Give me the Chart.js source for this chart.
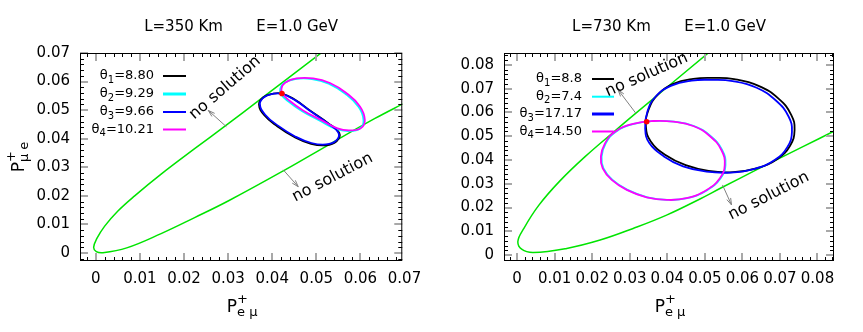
<!DOCTYPE html>
<html>
<head>
<meta charset="utf-8">
<script src="https://cdn.jsdelivr.net/npm/chart.js@4.4.1/dist/chart.umd.min.js"></script>
<style>
  body { margin: 0; background: #fff; width: 863px; height: 332px; overflow: hidden; position: relative; }
  .panel { position: absolute; top: 0; height: 332px; }
</style>
</head>
<body>
<div class="panel" style="left:0;width:430px"><canvas id="left" width="430" height="332"></canvas></div>
<div class="panel" style="left:430px;width:433px"><canvas id="right" width="433" height="332"></canvas></div>
<script>
const FONT = "'DejaVu Sans', sans-serif";

// ---------- left panel : L=350 Km ----------
const leftTitle = 'L=350 Km       E=1.0 GeV';
const leftXTicks = [0, 0.01, 0.02, 0.03, 0.04, 0.05, 0.06, 0.07];
const leftYTicks = [0, 0.01, 0.02, 0.03, 0.04, 0.05, 0.06, 0.07];
const leftThetas = ['8.80', '9.29', '9.66', '10.21'];
const leftBoundary = [[0.0515,0.0705],[0.0375,0.0540],[0.0292,0.0443],[0.0224,0.0365],[0.0148,0.0276],[0.0088,0.0200],
  [0.0050,0.0147],[0.0020,0.0094],[0.0002,0.0050],[-0.0005,0.0020],[0.0001,0.0005],[0.0016,0.0001],[0.0070,0.0018],
  [0.0148,0.0068],[0.0224,0.0124],[0.0300,0.0182],[0.0428,0.0290],[0.0526,0.0377],[0.0632,0.0470],[0.0700,0.0525]];
const leftTheta1 = [[0.0370,0.0520],[0.0380,0.0545],[0.0400,0.0557],[0.0422,0.0558],[0.0451,0.0537],[0.0488,0.0496],[0.0526,0.0455],
  [0.0552,0.0420],[0.0546,0.0391],[0.0522,0.0377],[0.0488,0.0382],[0.0451,0.0405],[0.0412,0.0443],[0.0382,0.0482]];
const leftTheta2 = [[0.0418,0.0574],[0.0426,0.0594],[0.0452,0.0609],[0.0490,0.0609],[0.0528,0.0593],[0.0565,0.0558],[0.0596,0.0511],
  [0.0607,0.0465],[0.0599,0.0436],[0.0573,0.0427],[0.0545,0.0434],[0.0507,0.0464],[0.0467,0.0497],[0.0437,0.0530],[0.0420,0.0556]];
const leftTheta3 = [[0.0372,0.0522],[0.0382,0.0546],[0.0401,0.0557],[0.0422,0.0557],[0.0451,0.0536],[0.0488,0.0495],[0.0525,0.0455],
  [0.0550,0.0421],[0.0545,0.0393],[0.0522,0.0380],[0.0489,0.0385],[0.0452,0.0408],[0.0414,0.0445],[0.0384,0.0484]];
const leftTheta4 = [[0.0421,0.0576],[0.0429,0.0596],[0.0455,0.0611],[0.0493,0.0611],[0.0531,0.0595],[0.0568,0.0560],[0.0599,0.0513],
  [0.0610,0.0467],[0.0602,0.0438],[0.0576,0.0429],[0.0548,0.0436],[0.0510,0.0466],[0.0470,0.0499],[0.0440,0.0532],[0.0423,0.0558]];
const leftCommon = [0.0422, 0.0558];

// ---------- right panel : L=730 Km ----------
const rightTitle = 'L=730 Km       E=1.0 GeV';
const rightXTicks = [0, 0.01, 0.02, 0.03, 0.04, 0.05, 0.06, 0.07, 0.08];
const rightYTicks = [0, 0.01, 0.02, 0.03, 0.04, 0.05, 0.06, 0.07, 0.08];
const rightThetas = ['8.8', '7.4', '17.17', '14.50'];
const rightBoundary = [[0.0515,0.0858],[0.0314,0.0594],[0.0261,0.0523],[0.0181,0.0414],[0.0114,0.0312],[0.0057,0.0208],
  [0.0017,0.0110],[0.0002,0.0058],[0.0012,0.0025],[0.0043,0.0011],[0.0132,0.0028],[0.0221,0.0063],[0.0309,0.0112],
  [0.0398,0.0168],[0.0487,0.0236],[0.0544,0.0283],[0.0637,0.0358],[0.0760,0.0455],[0.0850,0.0526]];
const rightTheta1 = [[0.0343,0.0540],[0.0350,0.0611],[0.0374,0.0674],[0.0416,0.0720],[0.0469,0.0741],[0.0522,0.0745],[0.0578,0.0740],
  [0.0643,0.0712],[0.0697,0.0657],[0.0730,0.0590],[0.0739,0.0526],[0.0727,0.0460],[0.0693,0.0404],[0.0640,0.0366],
  [0.0575,0.0349],[0.0510,0.0354],[0.0449,0.0378],[0.0395,0.0421],[0.0356,0.0478]];
const rightTheta2 = [[0.0225,0.0414],[0.0236,0.0470],[0.0263,0.0519],[0.0311,0.0552],[0.0365,0.0564],[0.0418,0.0561],[0.0471,0.0543],
  [0.0515,0.0501],[0.0546,0.0442],[0.0555,0.0379],[0.0542,0.0323],[0.0507,0.0274],[0.0453,0.0239],[0.0400,0.0232],
  [0.0347,0.0243],[0.0294,0.0274],[0.0254,0.0316],[0.0230,0.0365]];
const rightTheta3 = [[0.0341,0.0533],[0.0347,0.0604],[0.0369,0.0667],[0.0411,0.0713],[0.0465,0.0734],[0.0518,0.0737],[0.0574,0.0732],
  [0.0638,0.0704],[0.0690,0.0649],[0.0723,0.0583],[0.0732,0.0519],[0.0720,0.0455],[0.0686,0.0400],[0.0633,0.0363],
  [0.0568,0.0347],[0.0504,0.0351],[0.0442,0.0373],[0.0391,0.0415],[0.0352,0.0471]];
const rightTheta4 = [[0.0223,0.0414],[0.0234,0.0470],[0.0261,0.0519],[0.0309,0.0552],[0.0363,0.0564],[0.0416,0.0561],[0.0469,0.0543],
  [0.0513,0.0501],[0.0544,0.0442],[0.0553,0.0379],[0.0540,0.0323],[0.0505,0.0274],[0.0451,0.0239],[0.0398,0.0232],
  [0.0345,0.0243],[0.0292,0.0274],[0.0252,0.0316],[0.0228,0.0365]];
const rightCommon = [0.0345, 0.0561];

const COLORS = ['#000000', '#00ffff', '#0000ff', '#ff00ff'];
const GREEN = '#00e400';

function xy(pts) { return pts.map(p => ({ x: p[0], y: p[1] })); }

// closed curve: pad with neighbours so the spline closes smoothly, hide the padding segments
function loop(pts, color, order) {
  const seq = [pts[pts.length - 1], ...pts, pts[0], pts[1]];
  const last = seq.length - 1;
  return {
    data: xy(seq), borderColor: color, borderWidth: 1.8, tension: 0.45,
    showLine: true, pointRadius: 0, order,
    segment: { borderColor: c => (c.p0DataIndex === 0 || c.p1DataIndex === last) ? 'rgba(0,0,0,0)' : undefined }
  };
}

function richWidth(ctx, parts) {
  let w = 0;
  parts.forEach(p => { ctx.font = p.size + 'px ' + FONT; w += ctx.measureText(p.t).width; });
  return w;
}
function drawRich(ctx, parts, x, y) {
  parts.forEach(p => {
    ctx.font = p.size + 'px ' + FONT;
    ctx.fillText(p.t, x, y + (p.dy || 0));
    x += ctx.measureText(p.t).width;
  });
}
// P with superscript + and a subscript, x = centre, y = baseline
function drawP(ctx, x, y, sub) {
  ctx.font = '17px ' + FONT; const wP = ctx.measureText('P').width;
  ctx.font = '13px ' + FONT; const wS = Math.max(ctx.measureText('+').width, ctx.measureText(sub).width);
  const x0 = x - (wP + wS) / 2;
  ctx.textAlign = 'left'; ctx.textBaseline = 'alphabetic';
  ctx.font = '17px ' + FONT; ctx.fillText('P', x0, y);
  ctx.font = '13px ' + FONT; ctx.fillText('+', x0 + wP, y - 9); ctx.fillText(sub, x0 + wP, y + 3.5);
}

const deco = {
  id: 'deco',
  afterDatasetsDraw(chart, args, o) {
    const ctx = chart.ctx, a = chart.chartArea, sx = chart.scales.x, sy = chart.scales.y;
    ctx.save();
    // tick marks inside the frame, mirrored
    const marks = (scale, horiz) => {
      const majors = scale.ticks.map(t => t.value);
      const k0 = Math.ceil(scale.min / 0.002), k1 = Math.floor(scale.max / 0.002);
      for (let k = k0; k <= k1; k++) {
        const v = k * 0.002;
        const major = majors.some(m => Math.abs(m - v) < 1e-9);
        const len = major ? 8 : 4;
        ctx.strokeStyle = major ? '#a8a8a8' : '#000';
        ctx.lineWidth = major ? 2 : 1;
        const p = Math.round(scale.getPixelForValue(v)) + (major ? 0 : 0.5);
        ctx.beginPath();
        if (horiz) {
          ctx.moveTo(p, a.bottom); ctx.lineTo(p, a.bottom - len);
          ctx.moveTo(p, a.top); ctx.lineTo(p, a.top + len);
        } else {
          ctx.moveTo(a.left, p); ctx.lineTo(a.left + len, p);
          ctx.moveTo(a.right, p); ctx.lineTo(a.right - len, p);
        }
        ctx.stroke();
      }
    };
    marks(sx, true); marks(sy, false);
    ctx.strokeStyle = '#000'; ctx.lineWidth = 1;
    ctx.strokeRect(a.left + 0.5, a.top + 0.5, a.right - a.left - 1, a.bottom - a.top - 1);

    // title, centred over the plot frame
    ctx.fillStyle = '#000'; ctx.font = '15px ' + FONT; ctx.textAlign = 'center'; ctx.textBaseline = 'middle';
    ctx.fillText(o.title, (a.left + a.right) / 2, 27);

    // key
    ctx.textBaseline = 'middle'; ctx.textAlign = 'left';
    o.thetas.forEach((val, i) => {
      const y = o.key.rows[i];
      const parts = [{ t: 'θ', size: 13 }, { t: String(i + 1), size: 10, dy: 4 }, { t: '=' + val, size: 13 }];
      drawRich(ctx, parts, o.key.textRight - richWidth(ctx, parts), y);
      ctx.strokeStyle = COLORS[i]; ctx.lineWidth = o.key.widths[i];
      ctx.beginPath(); ctx.moveTo(o.key.x1, y); ctx.lineTo(o.key.x2, y); ctx.stroke();
    });

    // "no solution" labels with arrows
    o.notes.forEach(n => {
      const fx = sx.getPixelForValue(n.from[0]), fy = sy.getPixelForValue(n.from[1]);
      const tx = sx.getPixelForValue(n.to[0]), ty = sy.getPixelForValue(n.to[1]);
      const ang = Math.atan2(ty - fy, tx - fx);
      ctx.strokeStyle = '#808080'; ctx.lineWidth = 1;
      ctx.beginPath(); ctx.moveTo(fx, fy); ctx.lineTo(tx, ty);
      [0.3, -0.3].forEach(d => {
        ctx.moveTo(tx, ty); ctx.lineTo(tx - 7 * Math.cos(ang + d), ty - 7 * Math.sin(ang + d));
      });
      ctx.stroke();
      ctx.save();
      ctx.translate(sx.getPixelForValue(n.at[0]), sy.getPixelForValue(n.at[1]));
      ctx.rotate(-n.angle * Math.PI / 180);
      ctx.fillStyle = '#000'; ctx.font = '16px ' + FONT; ctx.textAlign = 'center'; ctx.textBaseline = 'middle';
      ctx.fillText('no solution', 0, 0);
      ctx.restore();
    });

    // axis titles
    ctx.fillStyle = '#000';
    drawP(ctx, (a.left + a.right) / 2 + 1, 312, 'e μ');
    if (o.yTitle) {
      ctx.save();
      ctx.translate(24, (a.top + a.bottom) / 2);
      ctx.rotate(-Math.PI / 2);
      drawP(ctx, 0, 0, 'μ e');
      ctx.restore();
    }
    ctx.restore();
  }
};

function panel(id, p) {
  const datasets = [
    { data: xy(p.boundary), borderColor: GREEN, borderWidth: 1.5, tension: 0.4, showLine: true, pointRadius: 0, order: 5 },
    loop(p.loops[0], COLORS[0], 4),
    loop(p.loops[1], COLORS[1], 3),
    loop(p.loops[2], COLORS[2], 2),
    loop(p.loops[3], COLORS[3], 1),
    { data: xy([p.common]), pointRadius: 2.8, backgroundColor: '#ff0000', borderWidth: 0, showLine: false, order: 0 }
  ];
  const tickFont = { family: FONT, size: 15 };
  const fmt = v => v === 0 ? '0' : v.toFixed(2);
  new Chart(document.getElementById(id), {
    type: 'scatter',
    data: { datasets },
    plugins: [deco],
    options: {
      responsive: false,
      animation: false,
      layout: { padding: { left: 0, right: p.padRight, top: 53, bottom: 0 } },
      plugins: {
        legend: { display: false },
        tooltip: { enabled: false },
        title: { display: false },
        deco: { title: p.title, thetas: p.thetas, key: p.key, notes: p.notes, yTitle: p.yTitle }
      },
      scales: {
        x: {
          type: 'linear', min: p.xRange[0], max: p.xRange[1],
          afterFit: s => { s.height = 71; },
          afterBuildTicks: s => { s.ticks = p.xTicks.map(v => ({ value: v })); },
          ticks: { autoSkip: false, maxRotation: 0, padding: 9, color: '#000', font: tickFont, callback: fmt },
          grid: { display: false, drawTicks: false }, border: { display: false }
        },
        y: {
          type: 'linear', min: p.yRange[0], max: p.yRange[1],
          afterFit: s => { s.width = p.yWidth; },
          afterBuildTicks: s => { s.ticks = p.yTicks.map(v => ({ value: v })); },
          ticks: { autoSkip: false, padding: 10, color: '#000', font: tickFont, callback: fmt },
          grid: { display: false, drawTicks: false }, border: { display: false }
        }
      }
    }
  });
}

panel('left', {
  title: leftTitle, boundary: leftBoundary, common: leftCommon, thetas: leftThetas,
  loops: [leftTheta1, leftTheta2, leftTheta3, leftTheta4],
  xTicks: leftXTicks, yTicks: leftYTicks, xRange: [-0.0036, 0.0695], yRange: [-0.0028, 0.07],
  yWidth: 80, padRight: 27, yTitle: true,
  key: { textRight: 154, x1: 163, x2: 186, rows: [76, 94, 112, 129.5], widths: [2, 3, 2, 2] },
  notes: [
    { at: [0.0293, 0.0578], angle: 40.6, from: [0.0296, 0.0442], to: [0.0255, 0.0499] },
    { at: [0.0537, 0.0264], angle: 27.5, from: [0.0425, 0.0291], to: [0.0459, 0.0232] }
  ]
});

panel('right', {
  title: rightTitle, boundary: rightBoundary, common: rightCommon, thetas: rightThetas,
  loops: [rightTheta1, rightTheta2, rightTheta3, rightTheta4],
  xTicks: rightXTicks, yTicks: rightYTicks, xRange: [-0.0035, 0.0844], yRange: [-0.0025, 0.085],
  yWidth: 74, padRight: 29, yTitle: false,
  key: { textRight: 152, x1: 162, x2: 184, rows: [79, 96.7, 114, 131.5], widths: [2, 2, 3, 2] },
  notes: [
    { at: [0.0345, 0.0758], angle: 23.7, from: [0.0316, 0.0597], to: [0.0269, 0.0695] },
    { at: [0.0670, 0.0248], angle: 27, from: [0.0547, 0.0295], to: [0.0571, 0.0211] }
  ]
});
</script>
</body>
</html>
